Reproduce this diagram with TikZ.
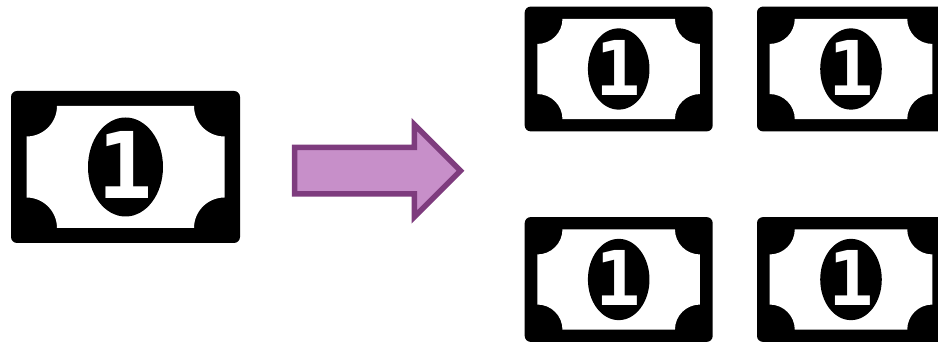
\documentclass[tikz,border=0pt]{standalone}
\usepackage{fontspec}
\setmainfont{DejaVu Sans Mono}
\usetikzlibrary{
  shapes.geometric,
  shapes.arrows,
  positioning
}
\definecolor{arrow_fill}{RGB}{199, 143, 201}
\definecolor{arrow_line}{RGB}{126, 60, 126}
\tikzset{
    banknote/.pic={
        % Black paper
        \node[bill_paper, transform shape] (-paper) at (0,0) {};
        % White face with four cut corners
        \fill[white] (-68.5,61) -- (68.5,61)
            arc[start angle=180, end angle=270, radius=30.5] -- (99,-30.5)
            arc[start angle=90, end angle=180, radius=30.5] -- (-68.5,-61)
            arc[start angle=0, end angle=90, radius=30.5] -- (-99,30.5)
            arc[start angle=-90, end angle=0, radius=30.5] -- cycle;
        % Portrait oval and digit
        \node[bill_oval, transform shape] (-oval) at (0,0) {};
        \node[bill_digit, transform shape] (-digit) at (0,1.7) {1};
    }
}

\begin{document}
\begin{tikzpicture}[
    x=1pt,
    y=1pt,
    % Styles
    bill_paper/.style={
        rectangle,
        fill=black,
        rounded corners=6pt,
        minimum width=229pt,
        minimum height=152pt,
        inner sep=0pt,
        outer sep=0pt
    },
    bill_oval/.style={
        ellipse,
        fill=black,
        minimum width=75pt,
        minimum height=99pt,
        inner sep=0pt
    },
    bill_digit/.style={
        text=white,
        font=\bfseries\fontsize{92}{92}\selectfont,
        inner sep=0pt
    },
    copy_arrow/.style={
        single arrow,
        draw=arrow_line,
        fill=arrow_fill,
        line width=5.5pt,
        minimum height=166pt,
        single arrow head extend=23pt,
        single arrow tip angle=90,
        inner xsep=0pt,
        inner ysep=20.5pt,
        outer sep=0pt
    }
]
\useasboundingbox (0,0) rectangle (938,342);
\clip (0,0) rectangle (938,342);

% --- ORIGINAL NOTE (Left) ---
\pic (source) at (125.5,175) {banknote};

% --- ARROW ---
\node[copy_arrow] (arrow) at (365.9,171.3) {};

% --- COPIES (Right) ---
\pic[scale=0.821] (copy1) at (618.7,273) {banknote};
\pic[scale=0.821] (copy2) at (851,273) {banknote};
\pic[scale=0.821] (copy3) at (618.7,62.5) {banknote};
\pic[scale=0.821] (copy4) at (851,62.5) {banknote};

\end{tikzpicture}
\end{document}
